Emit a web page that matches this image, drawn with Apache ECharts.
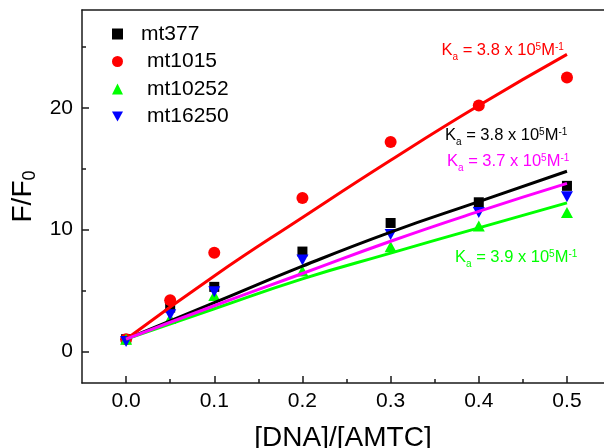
<!DOCTYPE html>
<html><head><meta charset="utf-8">
<script src="https://cdn.jsdelivr.net/npm/echarts@6/dist/echarts.min.js"></script>
<style>html,body{margin:0;padding:0;background:#fff}#c{width:604px;height:448px}</style>
</head><body><div id="c"></div>
<script>
const xValues = [0, 0.05, 0.1, 0.2, 0.3, 0.4, 0.5];
const mt377 = [1.0, 3.6, 5.3, 8.2, 10.55, 12.25, 13.6];
const mt1015 = [1.0, 4.2, 8.1, 12.6, 17.2, 20.2, 22.5];
const mt10252 = [1.0, 2.7, 4.6, 6.6, 8.6, 10.3, 11.4];
const mt16250 = [0.8, 3.0, 4.9, 7.5, 9.6, 11.4, 12.7];
const fitX = [0, 0.1, 0.2, 0.3, 0.4, 0.5];
const fitMt377 = [1, 4.0, 7.0, 9.8, 12.3, 14.8];
const fitMt1015 = [1, 6.2, 11.0, 15.7, 20.2, 24.4];
const fitMt10252 = [1, 3.5, 5.96, 8.07, 10.15, 12.2];
const fitMt16250 = [1, 3.75, 6.4, 9.05, 11.5, 13.8];
const xMajorTicks = [0, 0.1, 0.2, 0.3, 0.4, 0.5];
const xMinorTicks = [0.05, 0.15, 0.25, 0.35, 0.45];
const yMajorTicks = [0, 10, 20];
const yMinorTicks = [5, 15, 25];
const kaMt1015 = '3.8', kaMt377 = '3.8', kaMt16250 = '3.7', kaMt10252 = '3.9';

const FONT = '"Liberation Sans", Arial, sans-serif';
const AX = '#1a1a1a';
const X_MIN = -0.05, X_MAX = 0.542, Y_MIN = -2.6, Y_MAX = 28.05;
const pairs = (xs, ys) => xs.map((x, i) => [x, ys[i]]);

function kaText(v) { return '{m|K}{s|a}{m| = ' + v + ' x 10}{p|5}{m|M}{p|-1}'; }
function kaRich(color) {
  return {
    m: {fontSize: 16.5, lineHeight: 24, verticalAlign: 'middle', fill: color, fontFamily: FONT},
    s: {fontSize: 10, verticalAlign: 'bottom', fill: color, fontFamily: FONT},
    p: {fontSize: 10, verticalAlign: 'top', fill: color, fontFamily: FONT, padding: [4, 0, 0, 0]}
  };
}
function anno(v, color, x, y) {
  return {type: 'text', x: x, y: y, z: 100, silent: true,
    style: {text: kaText(v), rich: kaRich(color), fill: color, align: 'left', verticalAlign: 'top', font: '16.5px ' + FONT}};
}

const downTri = 'path://M0,0 L12,0 L6,11 Z';
const chart = echarts.init(document.getElementById('c'), null, {renderer: 'canvas'});
chart.setOption({
  animation: false,
  backgroundColor: '#fff',
  textStyle: {fontFamily: FONT},
  grid: {left: 82, right: 0, top: 10, bottom: 65, show: false, containLabel: false, outerBoundsMode: 'none'},
  legend: {
    orient: 'vertical', left: 112, top: 23.5, padding: 0, itemWidth: 11, itemHeight: 11, itemGap: 6.5,
    textStyle: {fontSize: 21, color: '#000', lineHeight: 21, fontFamily: FONT},
    data: [
      {name: 'mt377', icon: 'rect', textStyle: {padding: [0, 0, 0, 13]}},
      {name: 'mt1015', icon: 'circle', textStyle: {padding: [0, 0, 0, 19]}},
      {name: 'mt10252', icon: 'triangle', textStyle: {padding: [0, 0, 0, 19]}},
      {name: 'mt16250', icon: downTri, textStyle: {padding: [0, 0, 0, 19]}}
    ]
  },
  xAxis: [{
    type: 'value', min: X_MIN, max: X_MAX, position: 'bottom',
    name: '[DNA]/[AMTC]', nameLocation: 'middle', nameGap: 41,
    nameTextStyle: {fontSize: 28, color: '#000', fontFamily: FONT},
    axisLine: {show: true, onZero: false, lineStyle: {color: AX, width: 1.5}},
    axisTick: {show: true, inside: true, length: 7, customValues: xMajorTicks, lineStyle: {color: AX, width: 1.5}},
    axisLabel: {show: true, customValues: xMajorTicks, fontSize: 21, color: '#000', margin: 8, formatter: v => v.toFixed(1)},
    splitLine: {show: false}
  }, {
    type: 'value', min: X_MIN, max: X_MAX, position: 'bottom',
    axisLine: {show: false, onZero: false},
    axisTick: {show: true, inside: true, length: 4, customValues: xMinorTicks, lineStyle: {color: AX, width: 1.5}},
    axisLabel: {show: false}, splitLine: {show: false}
  }, {
    type: 'value', min: X_MIN, max: X_MAX, position: 'top',
    axisLine: {show: true, onZero: false, lineStyle: {color: AX, width: 1.5}},
    axisTick: {show: false}, axisLabel: {show: false}, splitLine: {show: false}
  }],
  yAxis: [{
    type: 'value', min: Y_MIN, max: Y_MAX, position: 'left',
    name: 'F/F{sub|0}', nameLocation: 'middle', nameGap: 31, nameRotate: 90,
    nameTextStyle: {fontSize: 28, color: '#000', fontFamily: FONT, lineHeight: 30,
      rich: {sub: {fontSize: 18, color: '#000', verticalAlign: 'bottom', lineHeight: 30, fontFamily: FONT}}},
    axisLine: {show: true, onZero: false, lineStyle: {color: AX, width: 1.5}},
    axisTick: {show: true, inside: true, length: 7, customValues: yMajorTicks, lineStyle: {color: AX, width: 1.5}},
    axisLabel: {show: true, customValues: yMajorTicks, fontSize: 21, color: '#000', margin: 9},
    splitLine: {show: false}
  }, {
    type: 'value', min: Y_MIN, max: Y_MAX, position: 'left',
    axisLine: {show: false, onZero: false},
    axisTick: {show: true, inside: true, length: 4, customValues: yMinorTicks, lineStyle: {color: AX, width: 1.5}},
    axisLabel: {show: false}, splitLine: {show: false}
  }],
  series: [
    {name: 'mt377', type: 'scatter', data: pairs(xValues, mt377), symbol: 'rect', symbolSize: 10, itemStyle: {color: '#000000', opacity: 1}, z: 2},
    {name: 'mt1015', type: 'scatter', data: pairs(xValues, mt1015), symbol: 'circle', symbolSize: 12, itemStyle: {color: '#ff0000', opacity: 1}, z: 2},
    {name: 'mt10252', type: 'scatter', data: pairs(xValues, mt10252), symbol: 'triangle', symbolSize: [12, 11], itemStyle: {color: '#00ff00', opacity: 1}, z: 2},
    {name: 'mt16250', type: 'scatter', data: pairs(xValues, mt16250), symbol: downTri, symbolSize: [12, 11], itemStyle: {color: '#0000ff', opacity: 1}, z: 2},
    {name: 'fit mt377', type: 'line', data: pairs(fitX, fitMt377), showSymbol: false, smooth: true, lineStyle: {color: '#000000', width: 3}, itemStyle: {color: '#000000'}, z: 3},
    {name: 'fit mt1015', type: 'line', data: pairs(fitX, fitMt1015), showSymbol: false, smooth: true, lineStyle: {color: '#ff0000', width: 3}, itemStyle: {color: '#ff0000'}, z: 3},
    {name: 'fit mt10252', type: 'line', data: pairs(fitX, fitMt10252), showSymbol: false, smooth: true, lineStyle: {color: '#00ff00', width: 3}, itemStyle: {color: '#00ff00'}, z: 3},
    {name: 'fit mt16250', type: 'line', data: pairs(fitX, fitMt16250), showSymbol: false, smooth: true, lineStyle: {color: '#ff00ff', width: 3}, itemStyle: {color: '#ff00ff'}, z: 3}
  ],
  graphic: [
    anno(kaMt1015, '#ff0000', 441.5, 38.5),
    anno(kaMt377, '#000000', 445, 123.5),
    anno(kaMt16250, '#ff00ff', 447, 149),
    anno(kaMt10252, '#00ff00', 455, 245.5)
  ]
});
</script></body></html>
